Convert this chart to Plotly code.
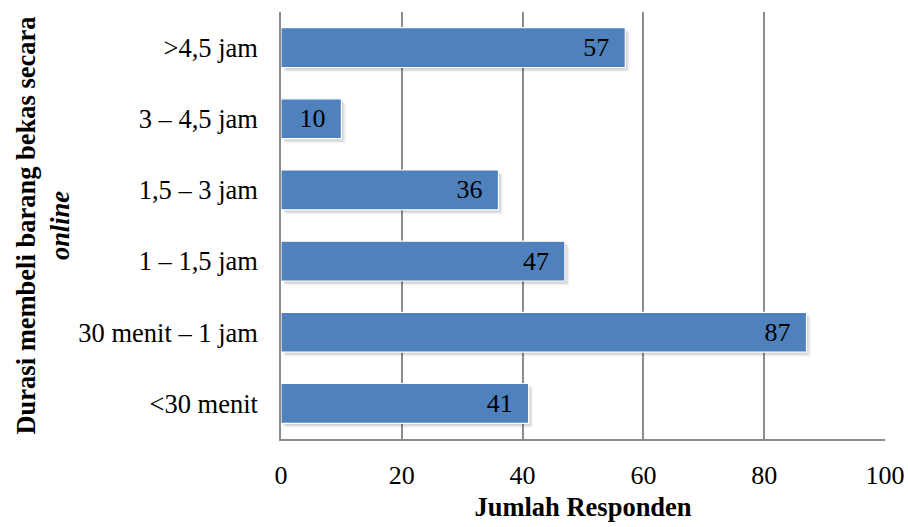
import plotly.graph_objects as go

categories = ["<30 menit", "30 menit – 1 jam", "1 – 1,5 jam", "1,5 – 3 jam", "3 – 4,5 jam", ">4,5 jam"]
values = [41, 87, 47, 36, 10, 57]
x_ticks = [0, 20, 40, 60, 80, 100]

FONT = "Liberation Serif, Times New Roman, serif"
BAR = "#4F81BD"
GRID = "#8C8C8C"
BAR_W = 0.56
NBSP = "\u00a0"

fig = go.Figure()

# soft drop shadow: faint copies of the bars nudged right (base) and down (offset)
for dx, dy, a in [(0.3, 0.03, 0.06), (0.5, 0.045, 0.06), (0.7, 0.06, 0.05)]:
    fig.add_trace(go.Bar(
        y=categories, x=values, base=dx, orientation="h", width=BAR_W,
        offset=-BAR_W / 2 - dy,
        marker=dict(color=f"rgba(0,0,0,{a})", line=dict(width=0)),
        hoverinfo="skip", showlegend=False,
    ))

# value labels sit inside the bar end, with a little padding on the right
fig.add_trace(go.Bar(
    y=categories, x=values, orientation="h", width=BAR_W,
    marker=dict(color=BAR, line=dict(color="white", width=1.2)),
    text=[f"{v}{NBSP * 2}" for v in values], textposition="inside", insidetextanchor="end",
    textfont=dict(family=FONT, size=26, color="black"), textangle=0,
    showlegend=False,
))

fig.update_layout(
    width=908, height=527,
    margin=dict(l=281, r=23, t=12, b=88),
    paper_bgcolor="white", plot_bgcolor="white",
    font=dict(family=FONT, size=26, color="black"),
    barmode="overlay",
    xaxis=dict(
        range=[0, 100], tickvals=x_ticks, ticktext=[str(t) for t in x_ticks],
        showgrid=True, gridcolor=GRID, gridwidth=1.5,
        showline=True, linecolor=GRID, linewidth=1.5,
        ticks="", zeroline=False, ticklabelstandoff=12, automargin=False,
        tickfont=dict(size=26),
        title=dict(text="<b>Jumlah Responden</b>", font=dict(size=26.5), standoff=8),
    ),
    yaxis=dict(
        categoryorder="array", categoryarray=categories, range=[-0.5, 5.5],
        showline=True, linecolor=GRID, linewidth=1.5,
        showgrid=False, ticks="", ticklabelstandoff=16, automargin=False,
        tickfont=dict(size=26.5),
        title=dict(text="<b>Durasi membeli barang bekas secara<br><i>online</i></b>",
                   font=dict(size=26.5), standoff=1),
    ),
)

fig.write_html("out.html")
